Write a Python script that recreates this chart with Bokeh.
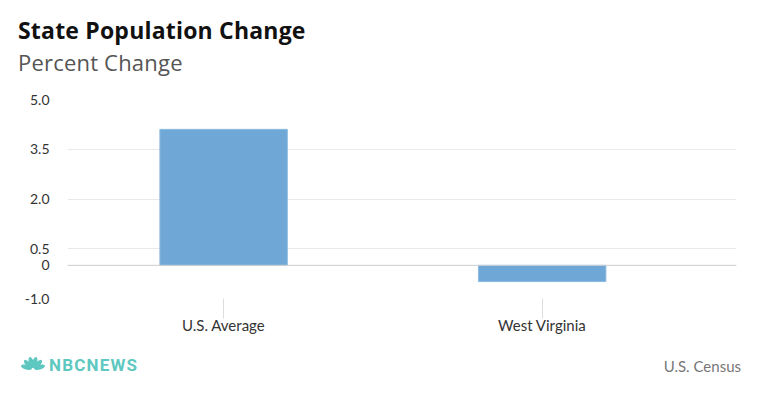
from bokeh.plotting import figure
from bokeh.models import Range1d, FixedTicker, Span, Div
from bokeh.layouts import column
from bokeh.embed import file_html
from bokeh.resources import INLINE

categories = ["U.S. Average", "West Virginia"]
values = [4.1, -0.49]
y_ticks = [-1.0, 0, 0.5, 2.0, 3.5, 5.0]
y_tick_labels = ["-1.0", "0", "0.5", "2.0", "3.5", "5.0"]
title = "State Population Change"
subtitle = "Percent Change"
source = "U.S. Census"

FONT = "Lato"
W = 756
HEAD_H, FIG_H, FOOT_H = 85, 255, 55
FL, FR, FT, FB = 67, 736, 14, 213  # frame edges within the figure

header = Div(width=W, height=HEAD_H, margin=0, text=f"""
<div style="position:relative;width:{W}px;height:{HEAD_H}px;">
  <div style="position:absolute;left:18px;top:15px;font-family:'Open Sans';font-weight:bold;font-size:23px;line-height:30px;color:#111;white-space:nowrap;letter-spacing:0.2px;">{title}</div>
  <div style="position:absolute;left:18px;top:47px;font-family:'Open Sans';font-size:22px;line-height:30px;color:#555;white-space:nowrap;letter-spacing:0.2px;">{subtitle}</div>
</div>""")

idx = list(range(len(categories)))
p = figure(width=W, height=FIG_H, output_backend="svg", toolbar_location=None, margin=0,
           x_range=Range1d(-0.49, 1.61), y_range=Range1d(-1.0, 5.0),
           min_border_left=FL, min_border_right=W - FR, min_border_top=FT, min_border_bottom=FIG_H - FB)
p.outline_line_color = None
p.background_fill_color = "white"
p.border_fill_color = "white"

p.vbar(x=idx, top=values, bottom=0, width=0.4, fill_color="#6fa8d6", line_color="#8dbbe0", line_width=1)

p.xgrid.grid_line_color = None
p.ygrid.ticker = FixedTicker(ticks=y_ticks)
p.ygrid.grid_line_color = "#e9e9e9"
p.add_layout(Span(location=0, dimension="width", line_color="#cfcfcf", line_width=1))

p.yaxis.ticker = FixedTicker(ticks=y_ticks)
p.yaxis.major_label_overrides = {t: l for t, l in zip(y_ticks, y_tick_labels)}
p.yaxis.axis_line_color = None
p.yaxis.major_tick_line_color = None
p.yaxis.minor_tick_line_color = None
p.yaxis.major_label_standoff = 12
p.yaxis.major_label_text_font = FONT
p.yaxis.major_label_text_font_size = "14px"
p.yaxis.major_label_text_color = "#333333"

p.xaxis.ticker = FixedTicker(ticks=idx)
p.xaxis.major_label_overrides = {i: c for i, c in zip(idx, categories)}
p.xaxis.axis_line_color = None
p.xaxis.major_tick_line_color = "#dddddd"
p.xaxis.major_tick_out = 20
p.xaxis.major_tick_in = 0
p.xaxis.minor_tick_line_color = None
p.xaxis.major_label_standoff = -3
p.xaxis.major_label_text_font = FONT
p.xaxis.major_label_text_font_size = "15px"
p.xaxis.major_label_text_color = "#333333"

# small peacock mark for the logo
feathers = "".join(
    f'<ellipse cx="13" cy="6.2" rx="2.4" ry="5.6" fill="#5ec8c0" transform="rotate({a} 13 13)"/>'
    for a in (-75, -45, -15, 15, 45, 75)
)
peacock = f'<svg width="26" height="14" viewBox="0 0 26 14" style="position:absolute;left:20px;top:16px;">{feathers}</svg>'

footer = Div(width=W, height=FOOT_H, margin=0, text=f"""
<div style="position:relative;width:{W}px;height:{FOOT_H}px;">
  {peacock}
  <div style="position:absolute;left:49px;top:14px;font-family:Roboto;font-weight:bold;font-size:17px;line-height:22px;color:#5ec8c0;letter-spacing:1.2px;">NBCNEWS</div>
  <div style="position:absolute;right:{W - 741}px;top:16px;font-family:Lato;font-size:15px;line-height:20px;color:#777;white-space:nowrap;">{source}</div>
</div>""")

layout = column(header, p, footer, spacing=0, margin=0)
open("out.html", "w").write(file_html(layout, INLINE))
